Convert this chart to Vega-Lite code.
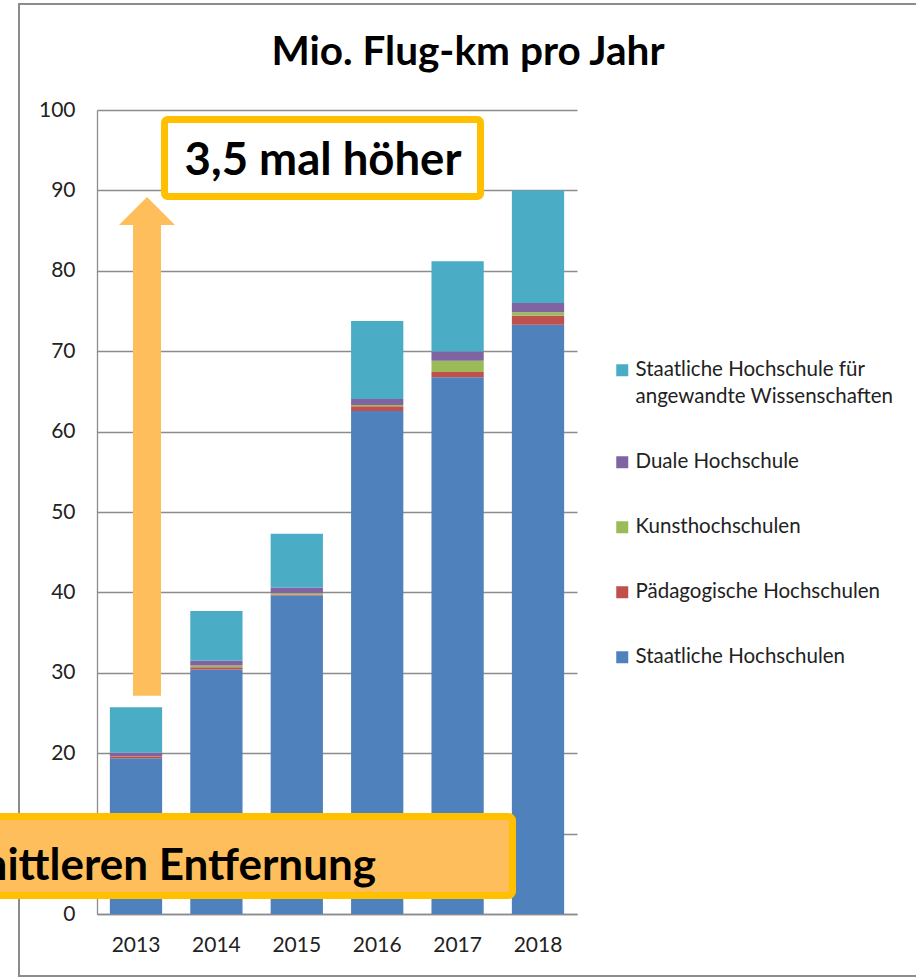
{
  "$schema": "https://vega.github.io/schema/vega-lite/v6.json",
  "width": 480,
  "height": 804,
  "autosize": {"type": "none"},
  "padding": {"left": 97, "top": 110, "right": 339, "bottom": 64},
  "background": "white",
  "title": {
    "text": "Mio. Flug-km pro Jahr",
    "font": "Lato",
    "fontSize": 40.5,
    "fontWeight": "bold",
    "color": "#000000",
    "anchor": "middle",
    "frame": "group",
    "dx": 131,
    "offset": -102,
    "baseline": "alphabetic"
  },
  "config": {
    "font": "Lato",
    "view": {"stroke": null},
    "style": {"guide-label": {"lineHeight": 27}}
  },
  "datasets": {
    "flights": [
      {"year": "2013", "type": "Staatliche Hochschulen", "value": 19.37},
      {"year": "2013", "type": "Pädagogische Hochschulen", "value": 0.25},
      {"year": "2013", "type": "Kunsthochschulen", "value": 0.02},
      {"year": "2013", "type": "Duale Hochschule", "value": 0.46},
      {"year": "2013", "type": "Staatliche Hochschule für angewandte Wissenschaften", "value": 5.6},
      {"year": "2014", "type": "Staatliche Hochschulen", "value": 30.4},
      {"year": "2014", "type": "Pädagogische Hochschulen", "value": 0.3},
      {"year": "2014", "type": "Kunsthochschulen", "value": 0.2},
      {"year": "2014", "type": "Duale Hochschule", "value": 0.6},
      {"year": "2014", "type": "Staatliche Hochschule für angewandte Wissenschaften", "value": 6.2},
      {"year": "2015", "type": "Staatliche Hochschulen", "value": 39.6},
      {"year": "2015", "type": "Pädagogische Hochschulen", "value": 0.15},
      {"year": "2015", "type": "Kunsthochschulen", "value": 0.15},
      {"year": "2015", "type": "Duale Hochschule", "value": 0.7},
      {"year": "2015", "type": "Staatliche Hochschule für angewandte Wissenschaften", "value": 6.7},
      {"year": "2016", "type": "Staatliche Hochschulen", "value": 62.55},
      {"year": "2016", "type": "Pädagogische Hochschulen", "value": 0.6},
      {"year": "2016", "type": "Kunsthochschulen", "value": 0.15},
      {"year": "2016", "type": "Duale Hochschule", "value": 0.75},
      {"year": "2016", "type": "Staatliche Hochschule für angewandte Wissenschaften", "value": 9.7},
      {"year": "2017", "type": "Staatliche Hochschulen", "value": 66.75},
      {"year": "2017", "type": "Pädagogische Hochschulen", "value": 0.65},
      {"year": "2017", "type": "Kunsthochschulen", "value": 1.4},
      {"year": "2017", "type": "Duale Hochschule", "value": 1.15},
      {"year": "2017", "type": "Staatliche Hochschule für angewandte Wissenschaften", "value": 11.25},
      {"year": "2018", "type": "Staatliche Hochschulen", "value": 73.3},
      {"year": "2018", "type": "Pädagogische Hochschulen", "value": 1.1},
      {"year": "2018", "type": "Kunsthochschulen", "value": 0.45},
      {"year": "2018", "type": "Duale Hochschule", "value": 1.15},
      {"year": "2018", "type": "Staatliche Hochschule für angewandte Wissenschaften", "value": 14.0}
    ]
  },
  "resolve": {"scale": {"x": "independent"}, "axis": {"x": "independent"}},
  "layer": [
    {
      "data": {"name": "flights"},
      "transform": [
        {"calculate": "indexof(['Staatliche Hochschulen','Pädagogische Hochschulen','Kunsthochschulen','Duale Hochschule','Staatliche Hochschule für angewandte Wissenschaften'], datum.type)", "as": "stackOrder"}
      ],
      "mark": {"type": "bar"},
      "encoding": {
        "x": {
          "field": "year",
          "type": "ordinal",
          "scale": {"paddingInner": 0.35, "paddingOuter": 0.16},
          "axis": {
            "title": null,
            "labelAngle": 0,
            "labelFontSize": 21,
            "labelColor": "#222222",
            "labelPadding": 20,
            "ticks": false,
            "grid": false,
            "domainColor": "#8c8c8c",
            "domainWidth": 1.3
          }
        },
        "y": {
          "field": "value",
          "type": "quantitative",
          "stack": "zero",
          "scale": {"domain": [0, 100], "nice": false},
          "axis": {
            "title": null,
            "values": [0, 10, 20, 30, 40, 50, 60, 70, 80, 90, 100],
            "labelFontSize": 21,
            "labelColor": "#222222",
            "labelPadding": 22,
            "ticks": false,
            "domainColor": "#8c8c8c",
            "domainWidth": 1.3,
            "gridColor": "#8c8c8c",
            "gridWidth": 1.3
          }
        },
        "color": {
          "field": "type",
          "type": "nominal",
          "scale": {
            "domain": [
              "Staatliche Hochschule für angewandte Wissenschaften",
              "Duale Hochschule",
              "Kunsthochschulen",
              "Pädagogische Hochschulen",
              "Staatliche Hochschulen"
            ],
            "range": ["#4BACC6", "#8064A2", "#9BBB59", "#C0504D", "#4F81BD"]
          },
          "legend": {
            "title": null,
            "orient": "none",
            "legendX": 515,
            "legendY": 250,
            "padding": 0,
            "symbolType": "square",
            "symbolSize": 144,
            "symbolStrokeWidth": 0,
            "labelFontSize": 20.5,
            "labelColor": "#222222",
            "labelOffset": 3,
            "labelLimit": 340,
            "rowPadding": 44,
            "labelExpr": "datum.label == 'Staatliche Hochschule für angewandte Wissenschaften' ? ['Staatliche Hochschule für', 'angewandte Wissenschaften'] : datum.label"
          }
        },
        "order": {"field": "stackOrder", "type": "quantitative", "sort": "ascending"}
      }
    },
    {
      "data": {"values": [{}]},
      "layer": [
        {
          "mark": {"type": "rect", "fill": "transparent", "stroke": "#8c8c8c", "strokeWidth": 2},
          "encoding": {
            "x": {"datum": -0.975, "type": "quantitative", "scale": {"domain": [0, 6]}, "axis": null},
            "x2": {"datum": 11},
            "y": {"datum": 113.18, "type": "quantitative", "title": null},
            "y2": {"datum": -7.71}
          }
        },
        {
          "mark": {"type": "rect", "fill": "#FFBE5C"},
          "encoding": {
            "x": {"datum": 0.45, "type": "quantitative", "scale": {"domain": [0, 6]}, "axis": null},
            "x2": {"datum": 0.8},
            "y": {"datum": 27.15, "type": "quantitative", "title": null},
            "y2": {"datum": 85.9}
          }
        },
        {
          "mark": {"type": "point", "shape": "M-1,0.5L0,-0.5L1,0.5Z", "filled": true, "fill": "#FFBE5C", "opacity": 1, "strokeWidth": 0, "size": 3136},
          "encoding": {
            "x": {"datum": 0.625, "type": "quantitative", "scale": {"domain": [0, 6]}, "axis": null},
            "y": {"datum": 87.44, "type": "quantitative", "title": null}
          }
        },
        {
          "mark": {"type": "rect", "fill": "#ffffff", "stroke": "#FFC000", "strokeWidth": 7, "cornerRadius": 3},
          "encoding": {
            "x": {"datum": 0.844, "type": "quantitative", "scale": {"domain": [0, 6]}, "axis": null},
            "x2": {"datum": 4.794},
            "y": {"datum": 98.82, "type": "quantitative", "title": null},
            "y2": {"datum": 89.24}
          }
        },
        {
          "mark": {"type": "text", "text": "3,5 mal höher", "font": "Lato", "fontSize": 45.5, "fontWeight": "bold", "color": "#000000", "align": "center", "baseline": "alphabetic"},
          "encoding": {
            "x": {"datum": 2.825, "type": "quantitative", "scale": {"domain": [0, 6]}, "axis": null},
            "y": {"datum": 91.92, "type": "quantitative", "title": null}
          }
        },
        {
          "mark": {"type": "rect", "fill": "#FFBE5C", "stroke": "#FFC000", "strokeWidth": 7, "cornerRadius": 4},
          "encoding": {
            "x": {"datum": -1.5, "type": "quantitative", "scale": {"domain": [0, 6]}, "axis": null},
            "x2": {"datum": 5.194},
            "y": {"datum": 12.13, "type": "quantitative", "title": null},
            "y2": {"datum": 2.3}
          }
        },
        {
          "mark": {"type": "text", "text": "mittleren Entfernung", "font": "Lato", "fontSize": 44, "fontWeight": "bold", "color": "#000000", "align": "right", "baseline": "alphabetic"},
          "encoding": {
            "x": {"datum": 3.4875, "type": "quantitative", "scale": {"domain": [0, 6]}, "axis": null},
            "y": {"datum": 4.28, "type": "quantitative", "title": null}
          }
        }
      ]
    }
  ]
}
